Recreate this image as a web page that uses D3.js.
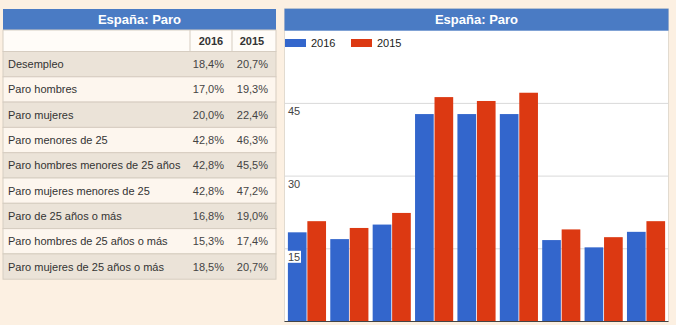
<!doctype html>
<html>
<head>
<meta charset="UTF-8">
<title>España: Paro</title>
<script src="https://d3js.org/d3.v7.min.js"></script>
<style>
  body { margin: 0; background: #fcf0e2; }
  svg { display: block; }
</style>
</head>
<body>
<script>

// -------------------------------------- data

var categories = [
    "Desempleo",
    "Paro hombres",
    "Paro mujeres",
    "Paro menores de 25",
    "Paro hombres menores de 25 años",
    "Paro mujeres menores de 25",
    "Paro de 25 años o más",
    "Paro hombres de 25 años o más",
    "Paro mujeres de 25 años o más"
];
var years = ["2016", "2015"];
var values2016 = [18.4, 17.0, 20.0, 42.8, 42.8, 42.8, 16.8, 15.3, 18.5];
var values2015 = [20.7, 19.3, 22.4, 46.3, 45.5, 47.2, 19.0, 17.4, 20.7];
var yTicks = [15, 30, 45];
var chartTitle = "España: Paro";

// -------------------------------------- colors

var back_col = "#fcf0e2";
var title_col = "#4a7bc4";
var blue_col = "#3366cc";
var red_col = "#dc3912";
var row_dark = "#ebe3d8";
var row_light = "#fdf6ee";
var line_col = "#d6cdc1";
var grid_col = "#d9d9d9";
var font = "'Liberation Sans', Arial, sans-serif";

var W = 676, H = 325;

var svg = d3.select("body").append("svg")
    .attr("width", W)
    .attr("height", H)
    .style("font-family", font);

svg.append("rect").attr("width", W).attr("height", H).attr("fill", back_col);

var fmt = d3.formatLocale({ decimal: ",", thousands: ".", grouping: [3], currency: ["", "€"] }).format(".1f");
var rows = categories.map(function(c, i) { return { name: c, v2016: values2016[i], v2015: values2015[i] }; });

// -------------------------------------- table

var tLeft = 3, tRight = 276, tTop = 9, titleH = 21, headH = 21.5, rowH = 25.3;
var col1 = 190, col2 = 232;

var table = svg.append("g");

table.append("rect")
    .attr("x", tLeft).attr("y", tTop)
    .attr("width", tRight - tLeft).attr("height", titleH)
    .attr("fill", title_col);

table.append("text")
    .attr("x", (tLeft + tRight) / 2).attr("y", tTop + titleH / 2 + 4.5)
    .attr("text-anchor", "middle")
    .attr("fill", "#fff")
    .style("font", "bold 13px " + font)
    .text(chartTitle);

var headY = tTop + titleH;
table.append("rect")
    .attr("x", tLeft).attr("y", headY)
    .attr("width", tRight - tLeft).attr("height", headH)
    .attr("fill", "#fffcf8")
    .attr("stroke", line_col).attr("stroke-width", 1);

var yearX = [(col1 + col2) / 2, 252];
table.selectAll("text.year")
    .data(years)
    .enter().append("text")
    .attr("class", "year")
    .attr("x", (d, i) => yearX[i])
    .attr("y", headY + headH / 2 + 4)
    .attr("text-anchor", "middle")
    .attr("fill", "#333")
    .style("font", "bold 11px " + font)
    .text(d => d);

var bodyY = headY + headH;
var rowG = table.selectAll("g.row")
    .data(rows)
    .enter().append("g")
    .attr("class", "row")
    .attr("transform", (d, i) => "translate(0," + (bodyY + i * rowH) + ")");

rowG.append("rect")
    .attr("x", tLeft).attr("width", tRight - tLeft).attr("height", rowH)
    .attr("fill", (d, i) => i % 2 === 0 ? row_dark : row_light)
    .attr("stroke", line_col).attr("stroke-width", 1);

rowG.append("text")
    .attr("x", tLeft + 5).attr("y", rowH / 2 + 4)
    .attr("fill", "#333")
    .style("font-size", "11px")
    .text(d => d.name);

rowG.append("text")
    .attr("x", col2 - 8).attr("y", rowH / 2 + 4)
    .attr("text-anchor", "end")
    .attr("fill", "#444")
    .style("font-size", "11px")
    .text(d => fmt(d.v2016) + "%");

rowG.append("text")
    .attr("x", 268).attr("y", rowH / 2 + 4)
    .attr("text-anchor", "end")
    .attr("fill", "#444")
    .style("font-size", "11px")
    .text(d => fmt(d.v2015) + "%");

// column dividers
table.selectAll("line.coldiv")
    .data([col1, col2])
    .enter().append("line")
    .attr("class", "coldiv")
    .attr("x1", d => d).attr("x2", d => d)
    .attr("y1", headY).attr("y2", headY + headH)
    .attr("stroke", line_col);

// -------------------------------------- chart

var pLeft = 284.5, pRight = 668.5, pTop = 30.7, pBottom = 321.5;

svg.append("rect")
    .attr("x", pLeft).attr("y", 8.7)
    .attr("width", pRight - pLeft).attr("height", pBottom - 8.7)
    .attr("fill", "#fff")
    .attr("stroke", "#e2dbd0").attr("stroke-width", 1);

svg.append("rect")
    .attr("x", pLeft).attr("y", 8.7)
    .attr("width", pRight - pLeft).attr("height", pTop - 8.7)
    .attr("fill", title_col);

svg.append("text")
    .attr("x", (pLeft + pRight) / 2).attr("y", 8.7 + 11 + 4.5)
    .attr("text-anchor", "middle")
    .attr("fill", "#fff")
    .style("font", "bold 13px " + font)
    .text(chartTitle);

var y = d3.scaleLinear().domain([0, 60]).range([pBottom, pTop]);

var x0 = d3.scaleBand()
    .domain(categories)
    .range([pLeft, pRight])
    .paddingInner(0.1)
    .paddingOuter(0.08);

var x1 = d3.scaleBand()
    .domain(years)
    .range([0, x0.bandwidth()])
    .paddingInner(0.04);

var color = d3.scaleOrdinal().domain(years).range([blue_col, red_col]);

// gridlines
svg.append("g")
    .selectAll("line")
    .data(yTicks)
    .enter().append("line")
    .attr("x1", pLeft).attr("x2", pRight)
    .attr("y1", d => y(d)).attr("y2", d => y(d))
    .attr("stroke", grid_col).attr("stroke-width", 1);

// bars
var groups = svg.append("g")
    .selectAll("g")
    .data(rows)
    .enter().append("g")
    .attr("transform", d => "translate(" + x0(d.name) + ",0)");

groups.selectAll("rect")
    .data(d => [{ key: "2016", v: d.v2016 }, { key: "2015", v: d.v2015 }])
    .enter().append("rect")
    .attr("x", d => x1(d.key))
    .attr("y", d => y(d.v))
    .attr("width", x1.bandwidth())
    .attr("height", d => y(0) - y(d.v))
    .attr("fill", d => color(d.key));

// baseline
svg.append("line")
    .attr("x1", pLeft).attr("x2", pRight)
    .attr("y1", pBottom).attr("y2", pBottom)
    .attr("stroke", "#444").attr("stroke-width", 1);

// y tick labels (inside the plot, under each gridline)
var tickG = svg.append("g")
    .selectAll("g")
    .data(yTicks)
    .enter().append("g")
    .attr("transform", d => "translate(" + (pLeft + 3.5) + "," + (y(d) + 8) + ")");

tickG.append("rect")
    .attr("x", -1).attr("y", -6)
    .attr("width", 14).attr("height", 12)
    .attr("fill", "#fff");

tickG.append("text")
    .attr("y", 4)
    .attr("fill", "#444")
    .style("font-size", "11px")
    .text(d => d);

// legend
var legend = svg.append("g")
    .selectAll("g")
    .data(years)
    .enter().append("g")
    .attr("transform", (d, i) => "translate(" + (pLeft + 0.5 + i * 66) + ",39)");

legend.append("rect")
    .attr("width", 21).attr("height", 8)
    .attr("fill", d => color(d));

legend.append("text")
    .attr("x", 26).attr("y", 8)
    .attr("fill", "#222")
    .style("font-size", "11px")
    .text(d => d);

</script>
</body>
</html>
